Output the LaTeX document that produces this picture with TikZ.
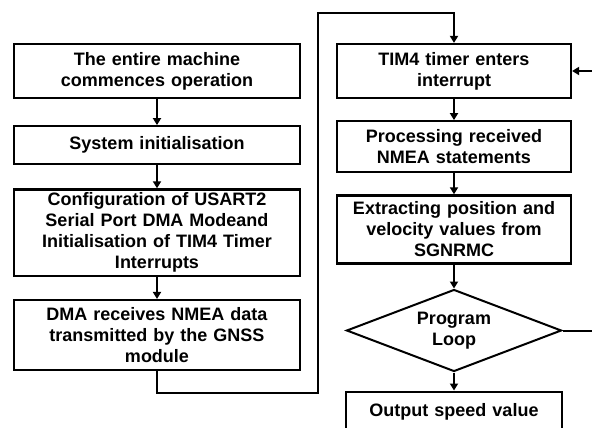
\documentclass[tikz,border=0pt]{standalone}
\usepackage{fontspec}
\setmainfont{Liberation Sans}
\usetikzlibrary{arrows.meta, positioning, shapes.geometric}

\tikzset{
  stepbox/.style={draw, line width=2.2pt, align=center, inner xsep=6pt,
    font=\fontsize{18}{21}\selectfont\bfseries},
  loopdec/.style={draw, diamond, aspect=2.6, line width=2pt, inner sep=0pt, align=center,
    minimum width=215pt, minimum height=82pt,
    font=\fontsize{18}{21}\selectfont\bfseries},
  flow/.style={line width=2pt, -{Triangle[length=7pt, width=8pt]}}
}

\begin{document}
\begin{tikzpicture}[x=1pt, y=-1pt]
  \path[use as bounding box, clip] (0,0) rectangle (592,428);

  % left column
  \node[stepbox, text width=274pt, minimum height=54pt] (start) at (157,71)
    {The entire machine\\commences operation};
  \node[stepbox, text width=274pt, minimum height=38pt] (init) [below=26pt of start]
    {System initialisation};
  \node[stepbox, text width=274pt, minimum height=85pt] (config) [below=23pt of init]
    {Configuration of USART2\\Serial Port DMA Modeand\\Initialisation of TIM4 Timer\\Interrupts};
  \node[stepbox, text width=274pt, minimum height=70pt] (dma) [below=22pt of config]
    {DMA receives NMEA data\\transmitted by the GNSS\\module};

  % right column
  \node[stepbox, text width=222pt, minimum height=54pt] (tim) at (454,71)
    {TIM4 timer enters\\interrupt};
  \node[stepbox, text width=222pt, minimum height=51pt] (nmea) [below=21pt of tim]
    {Processing received\\NMEA statements};
  \node[stepbox, text width=222pt, minimum height=68pt] (extract) [below=21pt of nmea]
    {Extracting position and\\velocity values from\\SGNRMC};
  \node[loopdec] (loop) [below=24pt of extract] {Program\\Loop};
  \node[stepbox, text width=204pt, minimum height=40pt] (out) [below=18pt of loop]
    {Output speed value};

  \coordinate (down) at (318,393);
  \coordinate (up) at (318,13);
  \coordinate (back) at ([xshift=50pt]loop.east);

  \draw[flow] (start) -- (init);
  \draw[flow] (init) -- (config);
  \draw[flow] (config) -- (dma);
  \draw[flow] (dma.south) |- (down) -- (up) -| (tim.north);
  \draw[flow] (tim) -- (nmea);
  \draw[flow] (nmea) -- (extract);
  \draw[flow] (extract) -- (loop);
  \draw[flow] (loop) -- (out);
  \draw[flow] (loop.east) -- (back) |- (tim.east);
\end{tikzpicture}
\end{document}
